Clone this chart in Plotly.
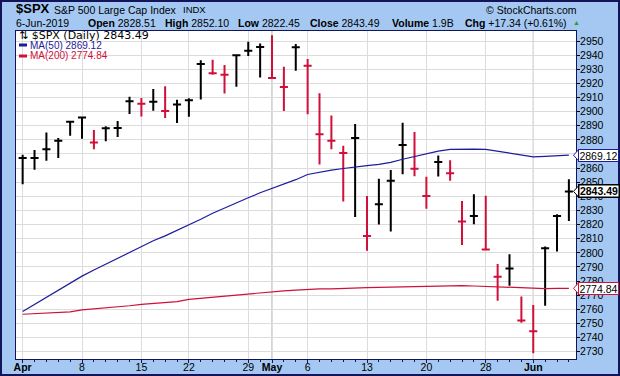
import plotly.graph_objects as go

# ---------------- data ----------------
dates = ["Apr 1", "Apr 2", "Apr 3", "Apr 4", "Apr 5", "Apr 8", "Apr 9", "Apr 10", "Apr 11", "Apr 12",
         "Apr 15", "Apr 16", "Apr 17", "Apr 18", "Apr 22", "Apr 23", "Apr 24", "Apr 25", "Apr 26",
         "Apr 29", "Apr 30", "May 1", "May 2", "May 3", "May 6", "May 7", "May 8", "May 9", "May 10",
         "May 13", "May 14", "May 15", "May 16", "May 17", "May 20", "May 21", "May 22", "May 23",
         "May 24", "May 28", "May 29", "May 30", "May 31", "Jun 3", "Jun 4", "Jun 5", "Jun 6"]
highs = [2869.4, 2872.9, 2885.3, 2881.3, 2893.2, 2896.0, 2886.9, 2889.7, 2893.4, 2910.5,
         2909.6, 2916.1, 2918.0, 2908.4, 2909.5, 2936.3, 2936.8, 2933.1, 2939.9,
         2949.5, 2948.2, 2954.1, 2931.7, 2947.9, 2937.3, 2913.0, 2897.3, 2875.8, 2891.3,
         2840.2, 2852.5, 2858.7, 2892.2, 2885.5, 2853.9, 2868.9, 2865.5, 2836.7,
         2841.4, 2840.5, 2792.0, 2799.0, 2769.0, 2763.1, 2804.5, 2827.3, 2852.1]
lows = [2848.6, 2858.8, 2865.2, 2867.1, 2883.0, 2880.8, 2873.3, 2879.1, 2882.0, 2898.4,
        2896.5, 2900.7, 2895.5, 2891.9, 2896.4, 2908.5, 2926.1, 2912.8, 2917.6,
        2939.4, 2924.1, 2923.4, 2900.5, 2929.0, 2898.2, 2862.6, 2873.3, 2836.4, 2825.4,
        2801.4, 2820.1, 2815.1, 2855.7, 2854.2, 2831.3, 2854.0, 2851.1, 2805.5,
        2820.2, 2801.6, 2766.1, 2776.7, 2750.5, 2728.8, 2762.6, 2800.9, 2822.5]
closes = [2867.19, 2867.24, 2873.40, 2879.39, 2892.74, 2895.77, 2878.20, 2888.21, 2888.32, 2907.41,
          2905.58, 2907.06, 2900.45, 2905.03, 2907.97, 2933.68, 2927.25, 2926.17, 2939.88,
          2943.03, 2945.83, 2923.73, 2917.52, 2945.64, 2932.51, 2884.05, 2879.42, 2870.72, 2881.40,
          2811.87, 2834.41, 2850.96, 2876.32, 2859.53, 2840.23, 2864.36, 2856.27, 2822.24,
          2826.06, 2802.39, 2783.02, 2788.86, 2752.06, 2744.45, 2803.27, 2826.15, 2843.49]
prev_close = 2834.40  # close before the first bar
ma50 = [2758.5, 2763.5, 2768.5, 2773.5, 2778.5, 2783.5, 2787.8, 2792.0, 2796.3, 2800.5,
        2804.8, 2808.5, 2812.0, 2815.8, 2819.7, 2823.8, 2828.0, 2831.8, 2835.5, 2839.0,
        2842.5, 2845.5, 2848.5, 2851.8, 2855.5, 2857.3, 2858.6, 2859.7, 2861.0, 2861.8,
        2862.6, 2864.0, 2866.3, 2868.3, 2870.3, 2872.0, 2873.3, 2873.5, 2873.5, 2873.3,
        2872.0, 2870.5, 2869.0, 2868.0, 2868.3, 2868.7, 2869.12]
ma200 = [2756.5, 2756.8, 2757.2, 2757.6, 2758.2, 2759.6, 2760.2, 2760.8, 2761.5, 2762.5,
         2763.5, 2764.2, 2764.8, 2765.5, 2767.0, 2767.8, 2768.6, 2769.3, 2770.0, 2770.9,
         2771.7, 2772.5, 2773.1, 2773.6, 2774.2, 2774.4, 2774.5, 2774.6, 2775.0, 2775.3,
         2775.5, 2775.7, 2775.8, 2775.9, 2776.0, 2776.2, 2776.5, 2776.7, 2776.5, 2776.2,
         2775.8, 2775.3, 2774.9, 2774.6, 2774.7, 2774.8, 2774.84]

tick_dates = ["Apr 1", "Apr 8", "Apr 15", "Apr 22", "Apr 29", "May 1", "May 6", "May 13",
              "May 20", "May 28", "Jun 3"]
tick_labels = ["<b>Apr</b>", "8", "15", "22", "29", "<b>May</b>", "6", "13", "20", "28", "<b>Jun</b>"]
month_starts = ["May 1", "Jun 3"]

header_title = "$SPX"
header_name = "S&P 500 Large Cap Index"
header_exch = "INDX"
header_date = "6-Jun-2019"
header_stats = [("Open", "2828.51"), ("High", "2852.10"), ("Low", "2822.45"),
                ("Close", "2843.49"), ("Volume", "1.9B"), ("Chg", "+17.34 (+0.61%)")]
last_close = 2843.49
last_ma50 = 2869.12
last_ma200 = 2774.84

Y_RANGE = [2724.8, 2957.1]
X_RANGE = [-0.56, 46.6]

# ---------------- style ----------------
BG = "#a4c8f2"
NAVY = "#1c1c9c"
RED = "#d0103a"
FRAME = "#14145a"
GRID = "#dcdcdc"

# pixel helpers for layout placement (plot area: l=16, r=576, t=31, b=359)
PL, PR, PT, PB = 16, 576, 31, 359
def px(x):
    return (x - PL) / (PR - PL)
def py(y):
    return (PB - y) / (PB - PT)
def vy(v):  # data value -> paper y
    return (v - Y_RANGE[0]) / (Y_RANGE[1] - Y_RANGE[0])

xs = list(range(len(dates)))
pos = {d: i for i, d in enumerate(dates)}

up_idx, dn_idx = [], []
pc = prev_close
for i, c in enumerate(closes):
    (dn_idx if c < pc else up_idx).append(i)
    pc = c

fig = go.Figure()

def ohlc(idx, color):
    return go.Ohlc(
        x=[xs[i] for i in idx],
        open=[closes[i] for i in idx],
        high=[highs[i] for i in idx],
        low=[lows[i] for i in idx],
        close=[closes[i] for i in idx],
        increasing=dict(line=dict(color=color, width=2)),
        decreasing=dict(line=dict(color=color, width=2)),
        tickwidth=0.34, showlegend=False, hoverinfo="skip")

fig.add_trace(go.Scatter(x=xs, y=ma200, mode="lines", line=dict(color=RED, width=1.2),
                         showlegend=False, hoverinfo="skip"))
fig.add_trace(go.Scatter(x=xs, y=ma50, mode="lines", line=dict(color=NAVY, width=1.2),
                         showlegend=False, hoverinfo="skip"))
fig.add_trace(ohlc(up_idx, "#000000"))
fig.add_trace(ohlc(dn_idx, RED))

shapes = []
for m in month_starts:
    shapes.append(dict(type="line", xref="x", yref="paper", x0=pos[m], x1=pos[m], y0=0, y1=1,
                       line=dict(color="#a8a8a8", width=1), layer="below"))
# legend line samples
shapes.append(dict(type="line", xref="paper", yref="paper", x0=px(19), x1=px(27), y0=py(45), y1=py(45),
                   line=dict(color=NAVY, width=3)))
shapes.append(dict(type="line", xref="paper", yref="paper", x0=px(19), x1=px(27), y0=py(56), y1=py(56),
                   line=dict(color=RED, width=3)))
# outer frame
shapes.append(dict(type="rect", xref="paper", yref="paper", x0=px(1), x1=px(619), y0=py(375), y1=py(1),
                   line=dict(color=FRAME, width=2), layer="above"))

annotations = []
# right-side value tags
half_px = 5.5
for val, col, bold in [(last_ma50, NAVY, False), (last_close, "#000000", True), (last_ma200, RED, False)]:
    txt = f"{val:.2f}"
    annotations.append(dict(xref="paper", yref="paper", x=px(578), y=vy(val), xanchor="left", yanchor="middle",
                            text=f"<b>{txt}</b>" if bold else txt, showarrow=False,
                            bgcolor="white", bordercolor=col, borderwidth=1.5 if bold else 1,
                            borderpad=0, width=39, height=11, align="center",
                            font=dict(family="Arial", size=10.5, color="black")))
    dh = half_px / (PB - PT)
    yc = vy(val)
    x0, x1 = px(573.5), px(578.5)
    shapes.append(dict(type="path", xref="paper", yref="paper",
                       path=f"M {x1},{yc + dh} L {x0},{yc} L {x1},{yc - dh} Z",
                       fillcolor="white", line=dict(color=col, width=1), layer="above"))

def ann(x, y, text, size, color="black", family="Arial", xanchor="left"):
    annotations.append(dict(xref="paper", yref="paper", x=px(x), y=py(y), text=text, showarrow=False,
                            xanchor=xanchor, yanchor="middle",
                            font=dict(family=family, size=size, color=color)))

ann(14, 9, f"<b>{header_title}</b>", 13)
ann(52, 9.5, header_name, 10.5)
ann(181, 9.5, header_exch, 9.5)
ann(579, 9.5, "© StockCharts.com", 10.5, xanchor="right")
ann(14, 23.5, header_date, 10.5)
stat_x = [86, 163, 236, 308, 389.5, 463]
for (lab, v), x in zip(header_stats, stat_x):
    ann(x, 23.5, f"<b>{lab}</b> {v}", 10.5)
ann(576, 23, "▲", 7, color="#2e9a2e", xanchor="center")

ann(17, 35.5, f"⇅ $SPX (Daily) {last_close:.2f}", 11, family="DejaVu Sans")
ann(28, 45, f"MA(50) {last_ma50:.2f}", 10, color=NAVY)
ann(28, 56, f"MA(200) {last_ma200:.2f}", 10, color=RED)

fig.update_layout(
    width=620, height=376, autosize=False,
    margin=dict(l=PL, r=620 - PR, t=PT, b=376 - PB, pad=0, autoexpand=False),
    paper_bgcolor=BG, plot_bgcolor="white",
    shapes=shapes, annotations=annotations,
    showlegend=False,
    xaxis=dict(range=X_RANGE, tickmode="array", tickvals=[pos[d] for d in tick_dates],
               ticktext=tick_labels, showgrid=True, gridcolor=GRID, gridwidth=1,
               ticks="outside", ticklen=3, tickcolor=FRAME, tickwidth=1, automargin=False,
               ticklabelstandoff=-5,
               minor=dict(dtick=1, tick0=0, ticks="outside", ticklen=2, tickcolor=FRAME, showgrid=False),
               showline=True, mirror=True, linecolor=FRAME, linewidth=1,
               zeroline=False, rangeslider=dict(visible=False),
               tickfont=dict(family="Arial", size=10.5, color="black")),
    yaxis=dict(side="right", range=Y_RANGE, tick0=2730, dtick=10, automargin=False,
               showgrid=True, gridcolor=GRID, gridwidth=1,
               ticks="outside", ticklen=3, tickcolor="black", tickwidth=1,
               ticklabelstandoff=-2,
               showline=True, mirror=True, linecolor=FRAME, linewidth=1, zeroline=False,
               tickfont=dict(family="Arial", size=10.5, color="black")),
)

fig.write_html("out.html", config={"displayModeBar": False},
               post_script="document.body.style.margin='0';document.body.style.overflow='hidden';")
